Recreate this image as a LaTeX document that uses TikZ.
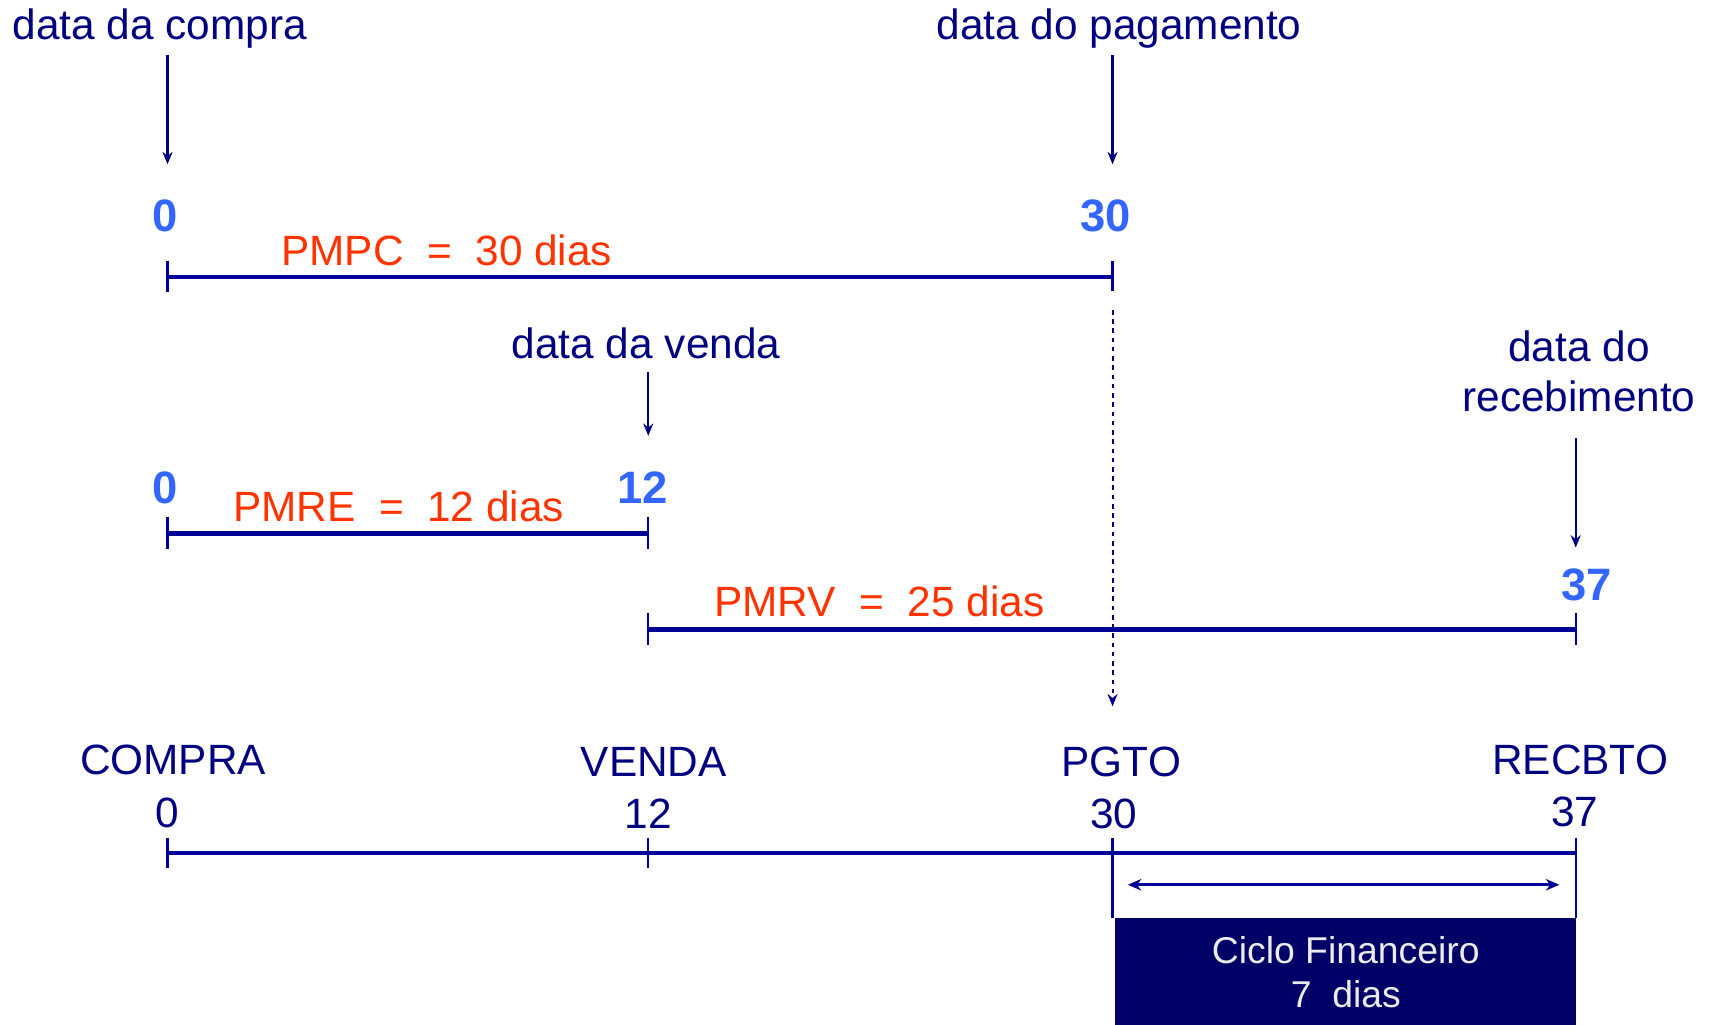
\documentclass[tikz,border=0pt]{standalone}
\usepackage{fontspec}
\setmainfont{Liberation Sans}
\usetikzlibrary{arrows.meta}
\definecolor{navy}{RGB}{0,0,128}
\definecolor{linha}{RGB}{0,0,153}
\definecolor{azul}{RGB}{51,102,255}
\definecolor{verm}{RGB}{255,51,0}
\definecolor{caixa}{RGB}{0,0,102}
\definecolor{claro}{RGB}{235,235,235}
\begin{document}
\begin{tikzpicture}[x=0.01cm,y=-0.01cm,
    rotulo/.style={text=navy,font=\fontsize{11}{13.1}\selectfont,inner sep=0pt,anchor=base},
    dia/.style={text=azul,font=\fontsize{11.8}{13}\selectfont\bfseries,inner sep=0pt,anchor=base},
    prazo/.style={text=verm,font=\fontsize{11}{13}\selectfont,inner sep=0pt,anchor=base},
    eixo/.style={linha,line width=1.2pt},
    marca/.style={linha,line width=0.6pt},
    seta/.style={navy,line width=0.6pt,-{Stealth[length=3.2pt,width=2.6pt]}}]
    \useasboundingbox (0,0) rectangle (1568,936);

    % datas no topo
    \node[rotulo] (dcompra) at (146,36) {data da compra};
    \node[rotulo] (dpagto) at (1022,36) {data do pagamento};
    \coordinate (a1) at (153,50);   \coordinate (b1) at (153,150);
    \coordinate (a2) at (1016,50);  \coordinate (b2) at (1016,150);
    \draw[seta] (a1) -- (b1);
    \draw[seta] (a2) -- (b2);

    % PMPC
    \node[dia] (z1) at (151,211) {0};
    \node[dia] (t1) at (1010,211) {30};
    \node[prazo] (pmpc) at (408,242) {PMPC\ \ =\ \ 30 dias};
    \coordinate (p0) at (153,253); \coordinate (p30) at (1016,253);
    \draw[eixo] (p0) -- (p30);
    \draw[marca] (153,238) -- (153,267);
    \draw[marca] (1016,238) -- (1016,266);

    % venda e recebimento
    \node[rotulo] (dvenda) at (590,327) {data da venda};
    \node[rotulo,align=center] (drec) at (1442,376) {data do\\recebimento};
    \coordinate (a3) at (592,340);  \coordinate (b3) at (592,398);
    \coordinate (a4) at (1439,400); \coordinate (b4) at (1439,500);
    \draw[seta] (a3) -- (b3);
    \draw[seta] (a4) -- (b4);

    % PMRE
    \node[dia] (z2) at (151,460) {0};
    \node[dia] (d2) at (587,460) {12};
    \node[prazo] (pmre) at (364,476) {PMRE\ \ =\ \ 12 dias};
    \coordinate (e0) at (153,487); \coordinate (e12) at (592,487);
    \draw[eixo] (e0) -- (e12);
    \draw[marca] (153,472) -- (153,501);
    \draw[marca] (592,472) -- (592,501);

    % PMRV
    \node[dia] (d3) at (1449,548) {37};
    \node[prazo] (pmrv) at (803,563) {PMRV\ \ =\ \ 25 dias};
    \coordinate (v12) at (592,575); \coordinate (v37) at (1439,575);
    \draw[eixo] (v12) -- (v37);
    \draw[marca] (592,560) -- (592,589);
    \draw[marca] (1439,560) -- (1439,589);

    % linha pontilhada do pagamento
    \coordinate (q1) at (1016,283); \coordinate (q2) at (1016,645);
    \draw[seta,line width=0.5pt,dash pattern=on 1.2pt off 1.2pt] (q1) -- (q2);

    % eixo principal
    \node[rotulo] (compra) at (158,707) {COMPRA};
    \node[rotulo] (venda) at (597,709) {VENDA};
    \node[rotulo] (pgto) at (1024,709) {PGTO};
    \node[rotulo] (recbto) at (1443,707) {RECBTO};
    \node[rotulo] (n0) at (153,756) {0};
    \node[rotulo] (n12) at (592,757) {12};
    \node[rotulo] (n30) at (1017,757) {30};
    \node[rotulo] (n37) at (1438,755) {37};
    \coordinate (m0) at (153,779); \coordinate (m37) at (1439,779);
    \draw[eixo] (m0) -- (m37);
    \foreach \x in {153,592} \draw[marca] (\x,765) -- (\x,793);
    \foreach \x in {1016,1439} \draw[marca] (\x,765) -- (\x,838);

    % ciclo financeiro
    \coordinate (c1) at (1030,808); \coordinate (c2) at (1424,808);
    \draw[linha,line width=0.8pt,{Stealth[length=3.5pt,width=3pt]}-{Stealth[length=3.5pt,width=3pt]}] (c1) -- (c2);
    \fill[caixa] (1018,838) rectangle (1439,936);
    \node[text=claro,font=\fontsize{9.7}{11.4}\selectfont,align=center,inner sep=0pt,anchor=base] (ciclo) at (1229,920) {Ciclo Financeiro\\7\ \ dias};
\end{tikzpicture}
\end{document}
